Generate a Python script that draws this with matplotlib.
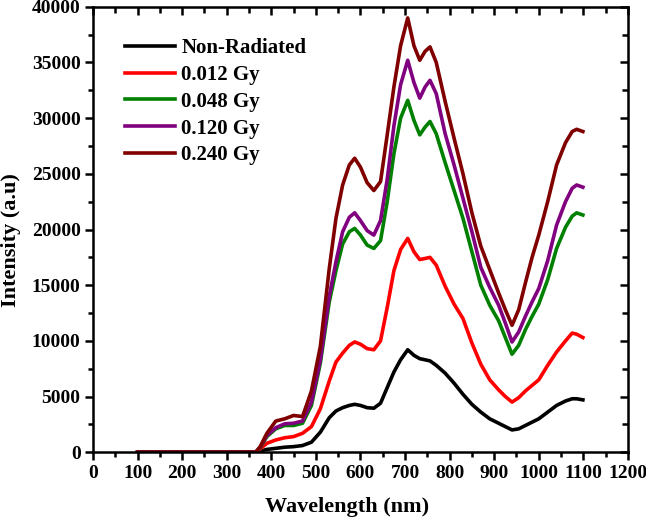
"""
Emission spectra of irradiated samples: intensity vs wavelength.
"""

import matplotlib
matplotlib.use("Agg")
import matplotlib.pyplot as plt
from matplotlib.ticker import MultipleLocator

plt.rcParams["font.family"] = ["Liberation Serif", "DejaVu Serif"]
plt.rcParams["font.weight"] = "bold"

# ── data ───────────────────────────────────────────────────────────────────
wavelength = [100, 365, 375, 390, 410, 430, 450, 470, 490, 510, 530, 545, 560,
              575, 587, 600, 615, 630, 645, 660, 675, 690, 706, 720, 733, 745,
              756, 770, 790, 810, 830, 850, 870, 890, 910, 925, 940, 955, 970,
              985, 1000, 1020, 1040, 1060, 1075, 1085, 1099]

non_radiated = [0, 0, 100, 250, 350, 450, 500, 600, 900, 1800, 3100, 3700, 4000,
                4200, 4300, 4200, 4000, 3950, 4400, 5800, 7200, 8300, 9200, 8700,
                8400, 8300, 8200, 7800, 7100, 6200, 5200, 4300, 3600, 3000, 2600,
                2300, 2000, 2100, 2400, 2700, 3000, 3600, 4200, 4600, 4800, 4800,
                4700]

gy_0012 = [0, 0, 300, 800, 1100, 1300, 1400, 1700, 2300, 3900, 6400, 8100, 8900,
           9600, 9900, 9700, 9300, 9200, 10000, 13000, 16300, 18200, 19200,
           18000, 17300, 17400, 17500, 16800, 14900, 13300, 12000, 9800, 7900,
           6500, 5600, 5000, 4500, 4900, 5500, 6000, 6500, 7800, 9000, 10000,
           10700, 10600, 10300]

gy_0048 = [0, 0, 400, 1400, 2100, 2400, 2400, 2600, 4200, 8000, 13500, 16300,
           18700, 19800, 20100, 19500, 18600, 18300, 19000, 22500, 26800, 30000,
           31600, 29800, 28500, 29200, 29700, 28600, 26000, 23500, 21000, 18000,
           15000, 13200, 11800, 10300, 8800, 9600, 11000, 12200, 13300, 15500,
           18300, 20200, 21200, 21500, 21300]

gy_0120 = [0, 0, 450, 1500, 2200, 2550, 2600, 2800, 4500, 8300, 14000, 17100,
           19800, 21100, 21500, 20800, 19900, 19500, 20800, 24500, 29300, 33000,
           35200, 33200, 31800, 32800, 33400, 32200, 28600, 25800, 22800, 19800,
           16600, 14800, 13200, 11600, 9900, 10800, 12200, 13500, 14700, 17200,
           20400, 22500, 23700, 24000, 23800]

gy_0240 = [0, 0, 500, 1700, 2800, 3000, 3300, 3200, 5500, 9500, 16500, 21000,
           24000, 25800, 26400, 25600, 24200, 23500, 24300, 28500, 32800, 36500,
           39000, 36500, 35200, 36000, 36400, 35000, 31500, 28200, 25000, 21500,
           18500, 16400, 14300, 12800, 11400, 12800, 15200, 17500, 19500, 22500,
           25800, 27800, 28800, 29000, 28800]

labels = ["Non-Radiated", "0.012 Gy", "0.048 Gy", "0.120 Gy", "0.240 Gy"]
colors = ["black", "#FF0000", "#008000", "#800080", "#800000"]

# ── figure ─────────────────────────────────────────────────────────────────
fig = plt.figure(figsize=(6.46, 5.24), dpi=100)
ax = fig.add_axes([0.144, 0.137, 0.828, 0.850])

for series, lab, col in zip([non_radiated, gy_0012, gy_0048, gy_0120, gy_0240],
                            labels, colors):
    ax.plot(wavelength, series, color=col, lw=2.6, label=lab,
            solid_joinstyle="round")

ax.set_xlim(0, 1200)
ax.set_ylim(0, 40000)
ax.xaxis.set_major_locator(MultipleLocator(100))
ax.xaxis.set_minor_locator(MultipleLocator(50))
ax.yaxis.set_major_locator(MultipleLocator(5000))
ax.yaxis.set_minor_locator(MultipleLocator(2500))

for s in ax.spines.values():
    s.set_linewidth(1.8)

ax.tick_params(which="both", bottom=True, left=True, top=False, right=False,
               direction="out", width=1.8, labelsize=14, pad=3)
ax.tick_params(which="major", length=6)
ax.tick_params(which="minor", length=3.5)

# inward ticks on top and right
ax_top = ax.secondary_xaxis("top")
ax_top.xaxis.set_major_locator(MultipleLocator(100))
ax_top.xaxis.set_minor_locator(MultipleLocator(50))
ax_top.tick_params(which="both", direction="in", width=1.8, labeltop=False)
ax_top.tick_params(which="major", length=6)
ax_top.tick_params(which="minor", length=4)
ax_right = ax.secondary_yaxis("right")
ax_right.yaxis.set_major_locator(MultipleLocator(5000))
ax_right.yaxis.set_minor_locator(MultipleLocator(2500))
ax_right.tick_params(which="both", direction="in", width=1.8, labelright=False)
ax_right.tick_params(which="major", length=6)
ax_right.tick_params(which="minor", length=4)

for lbl in ax.get_xticklabels() + ax.get_yticklabels():
    lbl.set_fontweight("bold")

ax.set_xlabel("Wavelength (nm)", fontsize=16, fontweight="bold")
ax.set_ylabel("Intensity (a.u)", fontsize=16, fontweight="bold")
ax.xaxis.set_label_coords(0.475, -0.10)
ax.yaxis.set_label_coords(-0.135, 0.476)

leg = ax.legend(loc="upper left", bbox_to_anchor=(0.06, 0.93), frameon=False,
                borderaxespad=0, borderpad=0,
                prop={"weight": "bold", "size": 15}, handlelength=2.4,
                handletextpad=0.3, labelspacing=0.33)

fig.savefig("out.png", dpi=100, facecolor="white")
plt.close(fig)
